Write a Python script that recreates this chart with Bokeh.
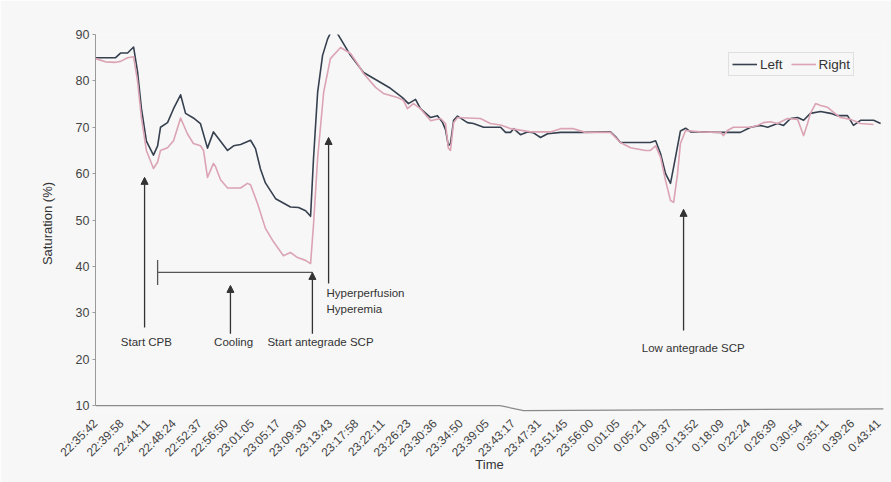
import math
from bokeh.plotting import figure
from bokeh.models import Range1d, FixedTicker, Arrow, NormalHead, Label, Legend
from bokeh.embed import file_html
from bokeh.resources import INLINE

# ---- data ----
tick_labels = ["22:35:42", "22:39:58", "22:44:11", "22:48:24", "22:52:37", "22:56:50",
               "23:01:05", "23:05:17", "23:09:30", "23:13:43", "23:17:58", "23:22:11",
               "23:26:23", "23:30:36", "23:34:50", "23:39:05", "23:43:17", "23:47:31",
               "23:51:45", "23:56:00", "0:01:05", "0:05:21", "0:09:37", "0:13:52",
               "0:18:09", "0:22:24", "0:26:39", "0:30:54", "0:35:11", "0:39:26", "0:43:41"]

left_x = [0, 0.38, 0.77, 0.96, 1.23, 1.46, 1.61, 1.76, 1.95, 2.22, 2.38, 2.49, 2.76, 2.99,
          3.26, 3.45, 3.75, 4.02, 4.29, 4.52, 4.79, 5.06, 5.29, 5.56, 5.94, 6.13, 6.32,
          6.51, 6.90, 7.47, 7.78, 8.05, 8.24, 8.35, 8.51, 8.70, 8.89, 9.00, 9.12, 9.27,
          9.77, 10.27, 11.30, 11.76, 11.99, 12.26, 12.45, 12.84, 13.10, 13.30, 13.41,
          13.52, 13.60, 13.72, 13.87, 14.25, 14.48, 14.87, 15.52, 15.71, 15.90, 16.02,
          16.28, 16.55, 16.78, 17.05, 17.32, 17.82, 18.58, 19.73, 19.92, 20.11, 21.26,
          21.46, 21.65, 21.84, 22.03, 22.22, 22.41, 22.61, 22.80, 23.18, 23.95, 24.71,
          25.10, 25.48, 25.75, 26.13, 26.36, 26.63, 26.90, 27.13, 27.39, 27.78, 28.16,
          28.43, 28.81, 29.04, 29.31, 29.81, 30.08]
left_y = [85, 85, 85, 86, 86, 87.3, 82, 74, 67, 64, 66, 70, 71, 74,
          77, 73, 72, 70.8, 65.5, 69, 67, 65, 66, 66.3, 67.2, 65.4, 61,
          58, 54.6, 52.8, 52.7, 52, 50.8, 63, 77.5, 85.5, 89, 90.3, 91, 90.2,
          85.5, 81.8, 78.4, 76.4, 75.1, 76, 74, 72.1, 72.5, 71, 69.5,
          66, 66.5, 71.5, 72.4, 71, 70.8, 70, 70, 68.9, 68.9, 69.7,
          68.4, 69, 68.8, 67.8, 68.6, 68.9, 68.9, 69, 68, 66.7, 66.7,
          67.1, 64.3, 60, 57.9, 63.5, 69.2, 69.8, 69, 69, 68.9, 68.9,
          70, 70.4, 70, 70.8, 70.4, 71.9, 72.1, 71.5, 73, 73.4, 73,
          72.5, 72.5, 70.4, 71.5, 71.5, 70.8]

right_x = [0, 0.38, 0.77, 0.96, 1.23, 1.46, 1.61, 1.76, 1.95, 2.22, 2.38, 2.49, 2.76, 2.99,
           3.26, 3.52, 3.75, 4.02, 4.14, 4.29, 4.52, 4.60, 4.79, 5.06, 5.56, 5.82, 5.94,
           6.21, 6.51, 6.82, 7.20, 7.47, 7.74, 8.05, 8.24, 8.35, 8.51, 8.74, 9.00, 9.39,
           9.77, 10.04, 10.27, 10.73, 11.03, 11.57, 11.80, 11.95, 12.18, 12.45, 12.84,
           13.22, 13.41, 13.52, 13.60, 13.72, 13.87, 14.25, 14.75, 15.13, 15.52, 15.90,
           16.67, 17.43, 17.82, 18.31, 18.77, 19.73, 20.11, 20.50, 21.07, 21.26, 21.46,
           21.65, 21.84, 22.03, 22.15, 22.30, 22.41, 22.61, 23.18, 23.95, 24.06, 24.21,
           24.44, 25.10, 25.36, 25.59, 25.86, 26.13, 26.51, 26.90, 27.01, 27.13, 27.28,
           27.39, 27.59, 27.78, 28.05, 28.28, 28.54, 28.93, 29.31, 29.81]
right_y = [84.8, 84.1, 84, 84.2, 85, 85.2, 80, 72, 65, 61.1, 62.5, 65, 65.6, 67.1,
           72, 68.6, 66.5, 66, 65, 59.2, 62.2, 61.5, 58.7, 56.9, 56.9, 57.9, 57.6,
           53.5, 48.2, 45.3, 42.3, 43, 41.9, 41.3, 40.6, 48.8, 63.3, 77.5, 84.8, 87.2,
           85.9, 83.7, 81.6, 78.6, 77.3, 76.4, 75.8, 74, 75.1, 74, 71.4,
           71.9, 70.8, 65.5, 65, 71, 72.1, 72, 71.9, 70.8, 70.5, 69.7,
           69, 69, 69.7, 69.7, 68.9, 68.9, 66.7, 65.6, 65, 65, 66,
           63.5, 58.5, 54.2, 53.8, 60, 66.5, 69.3, 69, 68.9, 68.2, 69.3,
           70, 70, 70.4, 71, 71.2, 70.8, 71.9, 71.7, 70, 68.2, 70.8,
           73, 75.1, 74.7, 74.3, 73.2, 72.1, 71.7, 70.8, 70.6]

base_x = [0, 15.5, 16.4, 30.2]
base_y = [10, 10, 8.9, 9.3]

y_ticks = [10, 20, 30, 40, 50, 60, 70, 80, 90]

# ---- figure ----
FONT = "Liberation Sans"
BG = "#f7f7f7"

p = figure(frame_width=788, frame_height=378,
           x_range=Range1d(0, 30.19), y_range=Range1d(8.5, 90),
           output_backend="svg", toolbar_location=None,
           min_border_left=95, min_border_top=34, min_border_right=8, min_border_bottom=70,
           background_fill_color=BG, border_fill_color=BG, outline_line_color=None)
p.xgrid.grid_line_color = None
p.ygrid.grid_line_color = None

# baseline (bottom line)
p.line(base_x, base_y, line_color="#8a8a8a", line_width=1.2)

l1 = p.line(left_x, left_y, line_color="#36404f", line_width=1.6, line_join="round")
l2 = p.line(right_x, right_y, line_color="#dba3b4", line_width=1.6, line_join="round")

# axes
xa = p.xaxis[0]
xa.ticker = FixedTicker(ticks=list(range(len(tick_labels))))
xa.major_label_overrides = {i: t for i, t in enumerate(tick_labels)}
xa.major_label_orientation = math.pi / 4
xa.axis_line_color = None
xa.major_tick_line_color = None
xa.minor_tick_line_color = None
xa.major_label_standoff = 3
xa.major_label_text_font = FONT
xa.major_label_text_font_size = "12px"
xa.major_label_text_color = "#444444"
xa.axis_label = "Time"
xa.axis_label_text_font = FONT
xa.axis_label_text_font_size = "13px"
xa.axis_label_text_font_style = "normal"
xa.axis_label_text_color = "#333333"
xa.axis_label_standoff = -10

ya = p.yaxis[0]
ya.ticker = FixedTicker(ticks=y_ticks)
ya.bounds = (10, 90)
ya.axis_line_color = "#9a9a9a"
ya.major_tick_line_color = "#9a9a9a"
ya.minor_tick_line_color = None
ya.major_tick_out = 3
ya.major_tick_in = 0
ya.major_label_standoff = 3
ya.major_label_text_font = FONT
ya.major_label_text_font_size = "12.5px"
ya.major_label_text_color = "#444444"
ya.axis_label = "Saturation (%)"
ya.axis_label_text_font = FONT
ya.axis_label_text_font_size = "13px"
ya.axis_label_text_font_style = "normal"
ya.axis_label_text_color = "#333333"
ya.axis_label_standoff = 18

# legend
legend = Legend(items=[("Left", [l1]), ("Right", [l2])], orientation="horizontal",
                location=(633, 336), glyph_width=25, glyph_height=16, label_height=16,
                label_standoff=3, spacing=8, padding=3, margin=0,
                label_text_font=FONT, label_text_font_size="13.5px",
                label_text_color="#333333",
                background_fill_alpha=0, border_line_color="#cfcfcf", border_line_alpha=0.6)
p.add_layout(legend, "center")

# annotations
AC = "#333333"
def arrow(x, y0, y1):
    p.add_layout(Arrow(end=NormalHead(size=7, fill_color=AC, line_color=AC),
                       x_start=x, y_start=y0, x_end=x, y_end=y1,
                       line_color=AC, line_width=1.3))

def label(x, y, t, align="center"):
    p.add_layout(Label(x=x, y=y, text=t, text_align=align, text_baseline="middle",
                       text_font=FONT, text_font_size="11.5px", text_color="#333333"))

arrow(1.88, 26.8, 59.2)
label(1.95, 23.6, "Start CPB")

p.segment(x0=[2.38, 2.38], y0=[38.7, 36.0], x1=[8.31, 2.38], y1=[38.7, 41.4],
          line_color="#555555", line_width=1.3)

arrow(5.17, 25.5, 35.9)
label(5.29, 23.6, "Cooling")

arrow(8.31, 25.5, 38.7)
label(8.62, 23.6, "Start antegrade SCP")

arrow(8.93, 36.3, 67.8)
label(8.85, 34.2, "Hyperperfusion", align="left")
label(8.85, 30.9, "Hyperemia", align="left")

arrow(22.53, 26.2, 52.3)
label(22.9, 22.5, "Low antegrade SCP")

open("out.html", "w").write(file_html(p, INLINE))
